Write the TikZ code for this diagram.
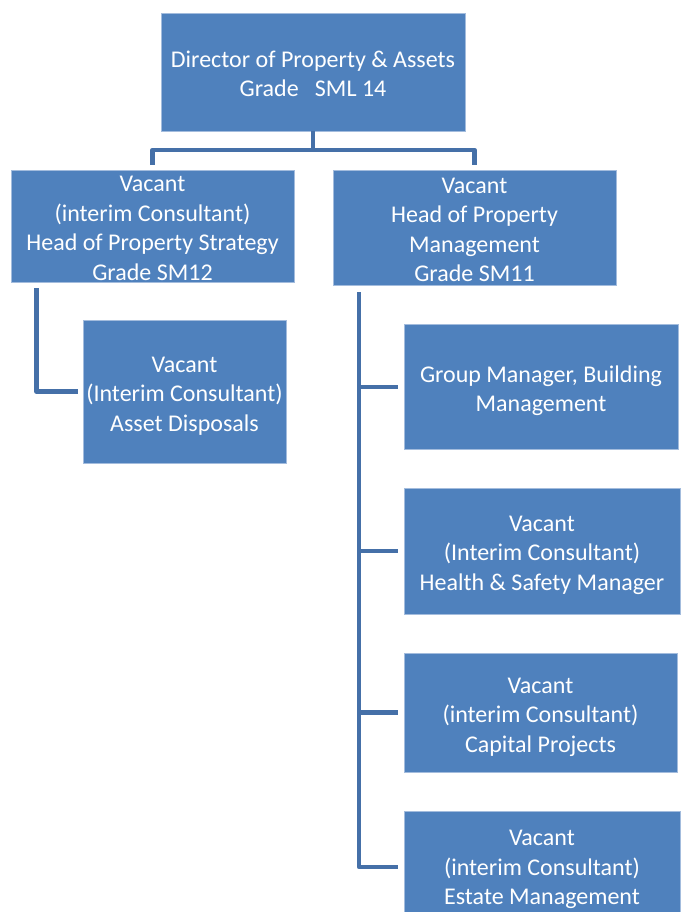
\documentclass[tikz,border=0pt]{standalone}
\usepackage{fontspec}
\setmainfont{Carlito}
\usetikzlibrary{calc}
\definecolor{boxblue}{HTML}{4F81BD}
\definecolor{edgeblue}{HTML}{A3BCDD}
\definecolor{linkblue}{HTML}{4570A8}
\tikzset{
  box/.style={rectangle, fill=boxblue, draw=edgeblue, line width=0.6pt, inner sep=0pt},
  boxtext/.style={text=white, align=center, inner sep=0pt, font=\fontsize{24}{29.5}\selectfont},
  conn/.style={draw=linkblue, line width=4.6pt, line join=round, line cap=butt}
}
\begin{document}
\begin{tikzpicture}[x=1pt,y=-1pt]
\useasboundingbox (0,0) rectangle (681,912);
% boxes
\node[box, minimum width=304pt, minimum height=118pt] (dir) at (313,72) {};
\node[box, minimum width=283pt, minimum height=112pt] (hps) at (152.5,226) {};
\node[box, minimum width=283pt, minimum height=115pt] (hpm) at (474.5,227.5) {};
\node[box, minimum width=203pt, minimum height=143pt] (ad) at (184.5,391.5) {};
\node[box, minimum width=274pt, minimum height=125pt] (gm) at (541,387) {};
\node[box, minimum width=276pt, minimum height=126pt] (hs) at (542,551) {};
\node[box, minimum width=273pt, minimum height=119pt] (cp) at (540.5,712.5) {};
\node[box, minimum width=276pt, minimum height=112pt] (em) at (542,867) {};
% texts
\node[boxtext] (dir-t) at ([yshift=-2pt]dir.center) {Director of Property \& Assets\\Grade\ \ \ SML 14};
\node[boxtext] (hps-t) at ([yshift=-2.5pt]hps.center) {Vacant\\(interim Consultant)\\Head of Property Strategy\\Grade SM12};
\node[boxtext] (hpm-t) at ([yshift=-2.5pt]hpm.center) {Vacant\\Head of Property\\Management\\Grade SM11};
\node[boxtext] (ad-t) at ([yshift=-4.5pt]ad.center) {Vacant\\(Interim Consultant)\\Asset Disposals};
\node[boxtext] (gm-t) at ([yshift=-3.5pt]gm.center) {Group Manager, Building\\Management};
\node[boxtext] (hs-t) at ([yshift=-4pt]hs.center) {Vacant\\(Interim Consultant)\\Health \& Safety Manager};
\node[boxtext] (cp-t) at ([yshift=-4.5pt]cp.center) {Vacant\\(interim Consultant)\\Capital Projects};
\node[boxtext] (em-t) at ([yshift=-2.5pt]em.center) {Vacant\\(interim Consultant)\\Estate Management};
\coordinate (bus) at (313,150);
\coordinate (trunk) at (359,292);
% director to heads
\draw[conn] (dir.south) -- (bus);
\draw[conn] ([yshift=5pt]hps.north) |- (bus) -| ([yshift=5pt]hpm.north);
% strategy branch
\draw[conn] ($(hps.south west)+(26,6)$) |- ([xshift=-5pt]ad.west);
% management trunk
\draw[conn] (trunk) |- ([xshift=-6pt]em.west);
\draw[conn] ([xshift=-6pt]gm.west) -- (gm.west -| trunk);
\draw[conn] ([xshift=-6pt]hs.west) -- (hs.west -| trunk);
\draw[conn] ([xshift=-6pt]cp.west) -- (cp.west -| trunk);
\end{tikzpicture}
\end{document}
